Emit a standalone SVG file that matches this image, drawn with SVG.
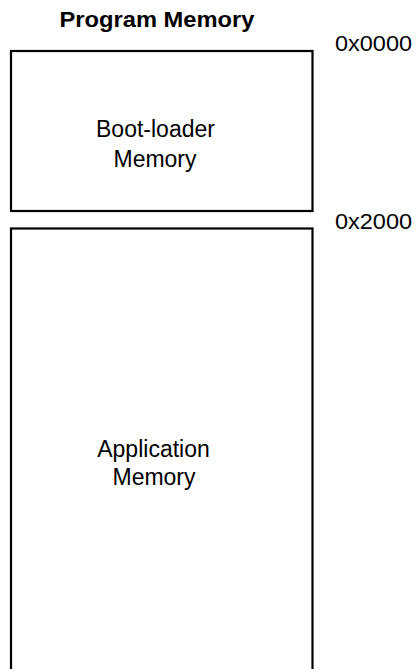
<svg xmlns="http://www.w3.org/2000/svg" width="417" height="669" viewBox="0 0 417 669">
<style>
.box{fill:#fff;stroke:#000;stroke-width:2.2}
.t{font-family:"Liberation Sans",Arial,sans-serif;font-size:23px;fill:#000;text-anchor:middle}
.h{font-family:"Liberation Sans",Arial,sans-serif;font-size:22.5px;font-weight:bold;fill:#000;text-anchor:middle}
.a{font-family:"Liberation Sans",Arial,sans-serif;font-size:21.5px;fill:#000}
</style>
<rect width="417" height="669" fill="#fff"/>
<text class="h" x="157" y="27" textLength="195" lengthAdjust="spacingAndGlyphs">Program Memory</text>
<g id="bootloader">
<rect class="box" x="11" y="51" width="301.5" height="160"/>
<text class="t" x="155.5" y="136.5">Boot-loader</text>
<text class="t" x="155" y="166.5">Memory</text>
</g>
<g id="application">
<rect class="box" x="11" y="228.5" width="301.5" height="460"/>
<text class="t" x="153.5" y="456.5">Application</text>
<text class="t" x="154" y="485">Memory</text>
</g>
<g id="addresses">
<text class="a" x="335" y="50.5" textLength="77" lengthAdjust="spacingAndGlyphs">0x0000</text>
<text class="a" x="335" y="228.5" textLength="77" lengthAdjust="spacingAndGlyphs">0x2000</text>
</g>
<g id="connectors"/>
</svg>
